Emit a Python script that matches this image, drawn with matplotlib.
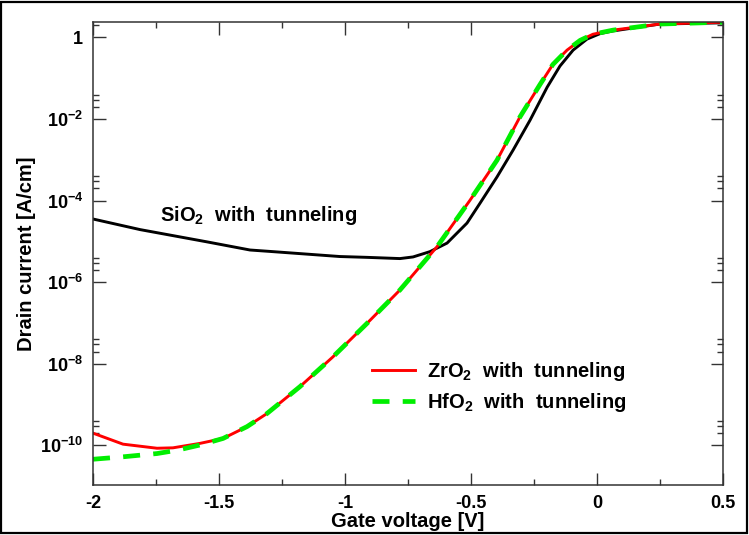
import numpy as np
import matplotlib
matplotlib.use('Agg')
import matplotlib.pyplot as plt
from matplotlib.ticker import FixedLocator, FixedFormatter, NullFormatter
from matplotlib.patches import Rectangle

plt.rcParams['font.family'] = 'Liberation Sans'
plt.rcParams['font.weight'] = 'bold'
plt.rcParams['mathtext.fontset'] = 'custom'
plt.rcParams['mathtext.rm'] = 'Liberation Sans:bold'
plt.rcParams['mathtext.bf'] = 'Liberation Sans:bold'
plt.rcParams['mathtext.default'] = 'bf'

# ---- data (log10 of drain current in A/cm) ----
v_sio2 = [-2.0, -1.813, -1.548, -1.377, -1.286, -1.020, -0.913, -0.782, -0.730, -0.663,
          -0.595, -0.516, -0.464, -0.397, -0.333, -0.266, -0.198, -0.147, -0.095, -0.040,
          0.012, 0.063, 0.25, 0.5]
log_sio2 = [-4.45, -4.71, -5.01, -5.21, -5.25, -5.37, -5.39, -5.42, -5.38, -5.25,
            -5.04, -4.55, -4.06, -3.42, -2.76, -2.03, -1.22, -0.70, -0.31, -0.04,
            0.095, 0.16, 0.33, 0.36]

v_zro2 = [-2.0, -1.881, -1.746, -1.683, -1.575, -1.484, -1.389, -1.310, -1.179, -1.048,
          -0.913, -0.782, -0.635, -0.504, -0.397, -0.306, -0.226, -0.175, -0.119, -0.067,
          -0.016, 0.063, 0.25, 0.5]
log_zro2 = [-9.70, -9.97, -10.07, -10.06, -9.95, -9.83, -9.54, -9.22, -8.56, -7.83,
            -7.01, -6.19, -5.13, -3.99, -3.01, -1.95, -1.15, -0.66, -0.31, -0.07,
            0.08, 0.18, 0.33, 0.375]

v_hfo2 = [-2.0, -1.881, -1.746, -1.667, -1.575, -1.484, -1.389, -1.310, -1.179, -1.048,
          -0.913, -0.782, -0.635, -0.504, -0.397, -0.306, -0.226, -0.175, -0.119, -0.067,
          -0.016, 0.063, 0.25, 0.5]
log_hfo2 = [-10.34, -10.28, -10.20, -10.12, -9.99, -9.83, -9.54, -9.22, -8.56, -7.83,
            -7.01, -6.19, -5.13, -3.99, -3.01, -1.95, -1.15, -0.66, -0.31, -0.07,
            0.08, 0.18, 0.33, 0.375]

ytick_vals = [1e-10, 1e-8, 1e-6, 1e-4, 1e-2, 1]
ytick_labels = [r'$10^{-10}$', r'$10^{-8}$', r'$10^{-6}$', r'$10^{-4}$', r'$10^{-2}$', '1']
xtick_vals = [-2, -1.5, -1, -0.5, 0, 0.5]
xtick_labels = ['-2', '-1.5', '-1', '-0.5', '0', '0.5']

#=================================================================================================
fig = plt.figure(figsize=(7.49, 5.35), dpi=100)
ax = fig.add_axes([0.1242, 0.0935, 0.8411, 0.8654])

ax.plot(v_sio2, 10**np.array(log_sio2), color='black', lw=2.1)
ax.plot(v_zro2, 10**np.array(log_zro2), color='#ff0000', lw=2.1, label=r'ZrO$_2$  with  tunneling')
ax.plot(v_hfo2, 10**np.array(log_hfo2), color='#00ee00', lw=3.4, dashes=(3.6, 2.8),
        label=r'HfO$_2$  with  tunneling')

ax.set_yscale('log')
ax.set_xlim(-2, 0.5)
ax.set_ylim(1.07e-11, 2.4)

ax.yaxis.set_major_locator(FixedLocator(ytick_vals))
ax.yaxis.set_major_formatter(FixedFormatter(ytick_labels))
minors = [m * 10.0**e for e in range(-12, 1, 2) for m in (2, 3, 4)]
ax.yaxis.set_minor_locator(FixedLocator(minors))
ax.yaxis.set_minor_formatter(NullFormatter())
ax.xaxis.set_major_locator(FixedLocator(xtick_vals))
ax.xaxis.set_major_formatter(FixedFormatter(xtick_labels))
ax.xaxis.set_minor_locator(FixedLocator(np.arange(-2, 0.51, 0.25)))

ax.tick_params(which='both', direction='in', top=True, right=True, color='#333333',
               labelsize=13, width=1.0)
ax.tick_params(which='major', length=9, pad=7)
ax.tick_params(which='minor', length=4.5)
for s in ax.spines.values():
    s.set_color('#333333')
    s.set_linewidth(1.1)

ax.set_xlabel('Gate voltage [V]', fontsize=14.5, fontweight='bold', labelpad=0)
ax.set_ylabel('Drain current [A/cm]', fontsize=14.5, fontweight='bold', labelpad=3)

ax.text(-1.735, 10**-4.36, r'SiO$_2$  with  tunneling', fontsize=14.5, va='center', ha='left')

leg = ax.legend(loc='upper left', bbox_to_anchor=(0.414, 0.31), frameon=False,
                fontsize=14.5, handlelength=2.15, handletextpad=0.6, labelspacing=0.4)

fig.patches.append(Rectangle((0.002, 0.003), 0.995, 0.994, transform=fig.transFigure,
                             fill=False, edgecolor='black', lw=1.6))

fig.savefig('out.png', dpi=100)
